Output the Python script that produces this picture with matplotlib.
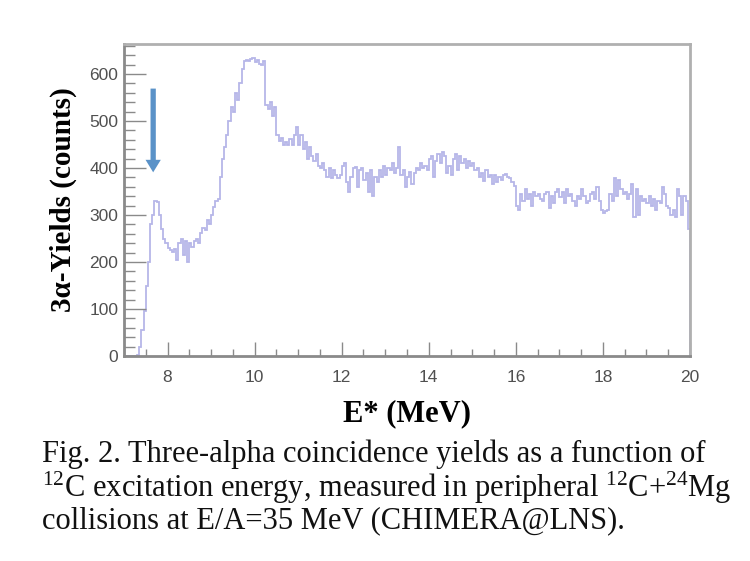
import matplotlib
matplotlib.use("Agg")
import matplotlib.pyplot as plt
import numpy as np
from matplotlib.ticker import MultipleLocator

plt.rcParams['mathtext.fontset'] = 'custom'
plt.rcParams['mathtext.rm'] = 'Liberation Serif'

# histogram: 0.05 MeV bins from 7 to 20 MeV
bin_start = 7.0
bin_width = 0.05
counts = [
    # 7.00 - 7.95
    0, 0, 0, 0, 0, 0, 2, 20, 55, 95, 150, 200, 280, 300, 330, 328, 300, 270, 250, 240,
    # 8.00 - 8.95
    230, 225, 222, 228, 205, 240, 248, 215, 245, 200, 240, 232, 245, 250, 240, 262, 272, 268, 290, 280,
    # 9.00 - 9.95
    300, 318, 330, 335, 380, 420, 445, 470, 500, 530, 520, 560, 545, 580, 610, 628, 630, 628, 632, 634,
    # 10.00 - 10.95
    626, 630, 622, 620, 628, 535, 525, 540, 510, 530, 470, 458, 465, 450, 455, 448, 462, 450, 470, 488,
    # 11.00 - 11.95
    450, 470, 440, 455, 420, 445, 425, 415, 430, 405, 400, 410, 395, 380, 400, 378, 395, 385, 378, 385,
    # 12.00 - 12.95
    405, 410, 370, 348, 380, 400, 402, 360, 395, 400, 375, 390, 350, 395, 340, 380, 370, 395, 380, 405,
    # 13.00 - 13.95
    385, 400, 395, 410, 390, 400, 445, 385, 395, 360, 380, 392, 365, 390, 400, 395, 410, 400, 405, 395,
    # 14.00 - 14.95
    420, 425, 380, 415, 430, 410, 435, 425, 390, 405, 385, 420, 430, 395, 425, 410, 420, 400, 415, 405,
    # 15.00 - 15.95
    410, 395, 400, 380, 390, 372, 395, 380, 385, 365, 385, 370, 382, 375, 385, 388, 380, 378, 370, 362,
    # 16.00 - 16.95
    320, 310, 345, 330, 355, 335, 345, 320, 350, 340, 345, 335, 330, 345, 350, 315, 340, 325, 348, 355,
    # 17.00 - 17.95
    338, 350, 325, 355, 340, 345, 330, 320, 340, 335, 355, 340, 325, 330, 345, 350, 335, 360, 330, 310,
    # 18.00 - 18.95
    305, 308, 310, 345, 330, 378, 340, 375, 355, 345, 350, 335, 345, 365, 295, 355, 300, 340, 330, 335,
    # 19.00 - 19.95
    325, 340, 320, 335, 310, 330, 325, 360, 345, 320, 315, 300, 310, 295, 355, 340, 300, 340, 330, 270,
]
edges = bin_start + bin_width * np.arange(len(counts) + 1)

arrow_energy = 7.67
arrow_from, arrow_to = 575, 385

caption = [
    "Fig. 2. Three-alpha coincidence yields as a function of",
    r"$\mathregular{^{12}}$C excitation energy, measured in peripheral $\mathregular{^{12}}$C+$\mathregular{^{24}}$Mg",
    "collisions at E/A=35 MeV (CHIMERA@LNS).",
]

fig = plt.figure(figsize=(7.5, 5.61), dpi=100)
ax = fig.add_axes([124 / 750, 1 - 356 / 561, 566 / 750, 312 / 561])

ax.stairs(counts, edges, color='#b6b6e8', linewidth=1.3)

ax.annotate('', xy=(arrow_energy, arrow_to), xytext=(arrow_energy, arrow_from),
            arrowprops=dict(arrowstyle='simple,head_width=1.1,head_length=0.9,tail_width=0.38',
                            color='#5a92c8', lw=0))

ax.set_xlim(7, 20)
ax.set_ylim(0, 664)
ax.xaxis.set_major_locator(MultipleLocator(2))
ax.xaxis.set_minor_locator(MultipleLocator(0.5))
ax.yaxis.set_major_locator(MultipleLocator(100))
ax.yaxis.set_minor_locator(MultipleLocator(20))

for s in ax.spines.values():
    s.set_color('#b0b0b0')
    s.set_linewidth(2)
ax.spines['bottom'].set_color('#8a8a8a')
ax.spines['left'].set_color('#8a8a8a')

ax.tick_params(axis='both', which='both', direction='in', color='#8a8a8a',
               labelcolor='#505050', labelsize=12.5, width=1)
ax.tick_params(axis='y', which='major', length=16, pad=4)
ax.tick_params(axis='y', which='minor', length=8)
ax.tick_params(axis='x', which='major', length=10, pad=10)
ax.tick_params(axis='x', which='minor', length=5)
for lab in ax.get_xticklabels() + ax.get_yticklabels():
    lab.set_family('Liberation Sans')

ax.set_ylabel('3α-Yields (counts)', family='Liberation Serif', fontweight='bold',
              fontsize=21, labelpad=9)
ax.set_xlabel('E* (MeV)', family='Liberation Serif', fontweight='bold',
              fontsize=22, labelpad=10)

for i, line in enumerate(caption):
    fig.text(42 / 750, 1 - (454 + 33.5 * i) / 561, line, family='Liberation Serif',
             fontsize=22, va='center', ha='left', color='#111111')

plt.savefig('out.png', dpi=100)
